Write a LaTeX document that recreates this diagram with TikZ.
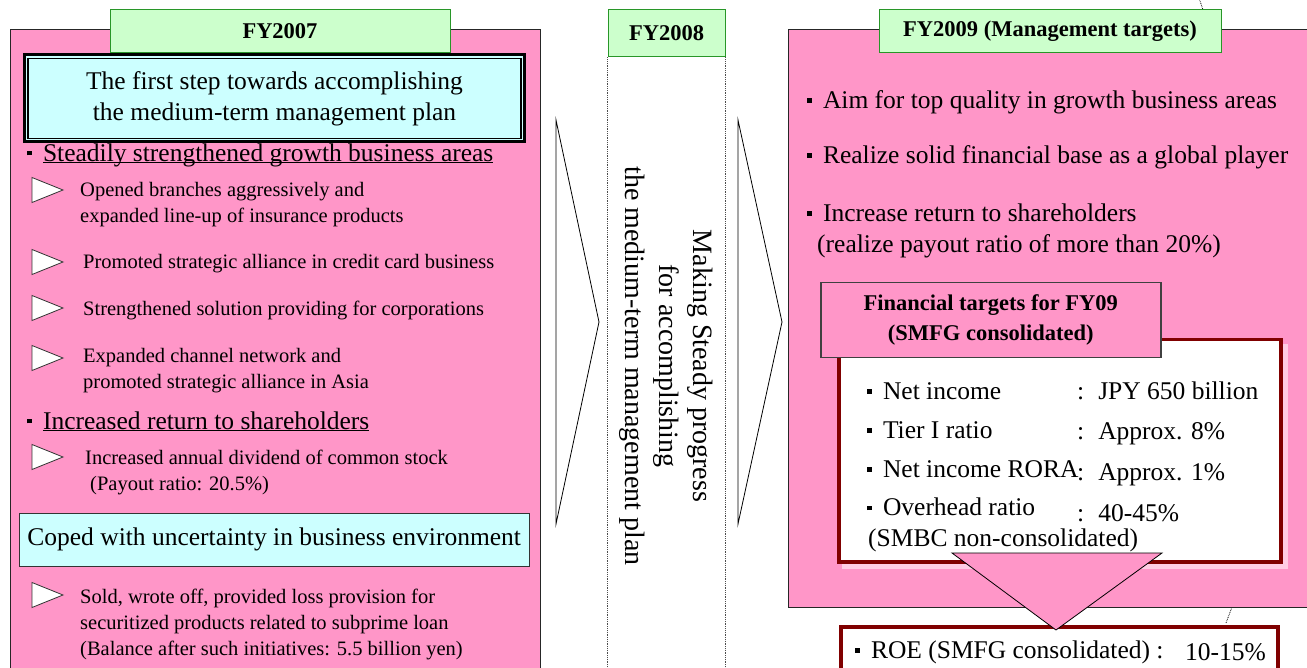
\documentclass[tikz,border=0pt]{standalone}
\usepackage{fontspec}
\setmainfont{Liberation Serif}
\usetikzlibrary{positioning}

\definecolor{panelpink}{RGB}{255,150,200}
\definecolor{tabgreen}{RGB}{204,255,204}
\definecolor{tabline}{RGB}{40,150,40}
\definecolor{boxcyan}{RGB}{204,255,255}
\definecolor{darkred}{RGB}{128,0,0}
\definecolor{shadowpink}{RGB}{255,205,228}

\newcommand{\sqb}{\raisebox{0.22em}{\rule{0.18em}{0.18em}}\hspace{0.44em}}

\tikzset{
  hollowtri/.pic={\draw[fill=white, line width=0.8pt, draw=black!80] (0,-12.5) -- (31,0) -- (0,12.5) -- cycle;}
}

\begin{document}
\begin{tikzpicture}[
    x=1pt, y=-1pt,
    panel/.style={draw=black!85, fill=panelpink, line width=1pt, anchor=north west},
    yeartab/.style={draw=tabline, fill=tabgreen, line width=1pt, minimum height=43pt, font={\fontsize{22.5}{27}\selectfont\bfseries}},
    bigtxt/.style={inner sep=0pt, anchor=west, align=left, font={\fontsize{25.5}{31}\selectfont}},
    smalltxt/.style={inner sep=0pt, anchor=west, align=left, font={\fontsize{20.5}{26}\selectfont}},
    tgtbox/.style={draw=darkred, fill=white, line width=3.5pt, anchor=north west},
    chevron/.style={draw=black, fill=white, line width=0.8pt},
    coldot/.style={draw=black!70, densely dotted, line width=0.8pt}
]
\useasboundingbox (0,0) rectangle (1307,668);

% FY2007 panel
\node[panel, minimum width=530pt, minimum height=660pt] (left) at (10,29) {};
\node[yeartab, minimum width=340pt] (fy07) at (280,31.5) {FY2007};

\node[draw=black, line width=3pt, fill=boxcyan, minimum width=500pt, minimum height=87pt, align=center,
      font={\fontsize{25.5}{31}\selectfont}] (firststep) at (274.5,98.5)
  {The first step towards accomplishing\\the medium-term management plan};
\draw[line width=1.8pt] ([shift={(5pt,-5pt)}]firststep.north west) rectangle ([shift={(-5pt,5pt)}]firststep.south east);

\node[bigtxt] (growth) at (27,157) {\sqb\underline{\smash{Steadily strengthened growth business areas}}};

\foreach \ty in {190,262,308,358,457,595}
  \pic at (32,\ty) {hollowtri};

\node[smalltxt] (branches) at (80,205) {Opened branches aggressively and\\expanded line-up of insurance products};
\node[smalltxt] (credit) at (83,264) {Promoted strategic alliance in credit card business};
\node[smalltxt] (solution) at (83,310) {Strengthened solution providing for corporations};
\node[smalltxt] (asia) at (83,371) {Expanded channel network and\\promoted strategic alliance in Asia};

\node[bigtxt] (return) at (27,425) {\sqb\underline{\smash{Increased return to shareholders}}};
\node[smalltxt] (dividend) at (85,472) {Increased annual dividend of common stock\\\hspace{5pt}(Payout ratio: 20.5\%)};

\node[draw=black!80, fill=boxcyan, line width=0.8pt, anchor=north west, minimum width=508pt, minimum height=53pt,
      inner xsep=8pt, font={\fontsize{25.5}{31}\selectfont}] (coped) at (19,513) {Coped with uncertainty in business environment};

\node[smalltxt] (subprime) at (80,624) {Sold, wrote off, provided loss provision for\\securitized products related to subprime loan\\(Balance after such initiatives: 5.5 billion yen)};

% FY2008 column
\node[yeartab, minimum width=117pt, minimum height=47pt] (fy08) at (666.5,33.5) {FY2008};
\draw[coldot] (fy08.south west) -- ++(0,615);
\draw[coldot] (fy08.south east) -- ++(0,615);
\draw[chevron] (556,120) -- (599,322) -- (556,524) -- cycle;
\draw[chevron] (738,120) -- (782,322) -- (738,524) -- cycle;
\node[rotate=-90, align=center, font={\fontsize{28}{34}\selectfont}] (progress) at (666,366)
  {Making Steady progress\\for accomplishing\\the medium-term management plan};

% FY2009 panel
\coordinate (dottop) at (1199,-2);
\coordinate (dotbot) at (1226,623);
\draw[densely dotted, line width=0.8pt] (dottop) -- (1203,10);
\draw[densely dotted, line width=0.8pt] (1232,607) -- (dotbot);

\node[panel, minimum width=530pt, minimum height=578pt] (right) at (788,29) {};
\node[yeartab, minimum width=342pt] (fy09) at (1050,31.5) {FY2009 (Management targets)};

\node[bigtxt] (quality) at (807,102) {\sqb Aim for top quality in growth business areas};
\node[bigtxt] (global) at (807,157) {\sqb Realize solid financial base as a global player};
\node[bigtxt] (payout) at (807,231) {\sqb Increase return to shareholders\\\hspace{10pt}(realize payout ratio of more than 20\%)};

\fill[shadowpink] (842,344) rectangle (1288,569);
\node[tgtbox, minimum width=442pt, minimum height=222pt] (targets) at (837,338) {};
\node[draw=black!75, fill=panelpink, line width=1.5pt, anchor=north west, minimum width=340pt, minimum height=75pt,
      align=center, font={\fontsize{22.5}{30}\selectfont\bfseries}] (fintgt) at (820,282)
  {Financial targets for FY09\\(SMFG consolidated)};

\node[bigtxt] (netinc) at (867,391) {\sqb Net income};
\node[bigtxt] (tier) at (867,430) {\sqb Tier I ratio};
\node[bigtxt] (rora) at (867,469) {\sqb Net income RORA};
\node[bigtxt] (ohr) at (867,507) {\sqb Overhead ratio};
\node[bigtxt] (smbc) at (868,540) {(SMBC non-consolidated)};
\node[bigtxt] (netincv) at (1077,391) {:\hspace{14pt}JPY 650 billion};
\node[bigtxt] (tierv) at (1077,434) {:\hspace{14pt}Approx. 8\%};
\node[bigtxt] (rorav) at (1077,475) {:\hspace{14pt}Approx. 1\%};
\node[bigtxt] (ohrv) at (1077,513) {:\hspace{14pt}40-45\%};

\node[tgtbox, minimum width=437pt, minimum height=60pt] (roe) at (839,625) {};
\draw[fill=panelpink, line width=0.8pt] (952,553) -- (1162,553) -- (1056,630) -- cycle;
\node[bigtxt] (roetxt) at (855,652) {\sqb ROE (SMFG consolidated) :};
\node[bigtxt] (roeval) at (1185,652) {10-15\%};

\end{tikzpicture}
\end{document}
